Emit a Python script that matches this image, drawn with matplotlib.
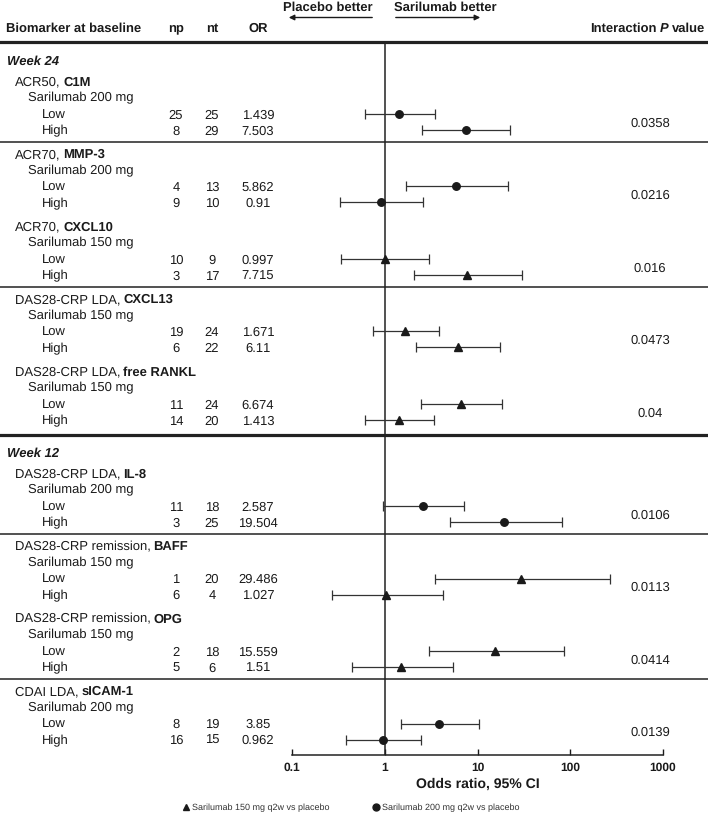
import matplotlib.pyplot as plt
from matplotlib.lines import Line2D

plt.rcParams['font.family'] = ['Liberation Sans', 'DejaVu Sans']
plt.rcParams['text.hinting'] = 'no_hinting'
plt.rcParams['text.hinting_factor'] = 1

# data
week_labels = ['Week 24', 'Week 12']
groups_per_week = [5, 4]
outcomes = ['ACR50', 'ACR70', 'ACR70', 'DAS28-CRP LDA', 'DAS28-CRP LDA',
            'DAS28-CRP LDA', 'DAS28-CRP remission', 'DAS28-CRP remission', 'CDAI LDA']
biomarkers = ['C1M', 'MMP-3', 'CXCL10', 'CXCL13', 'free RANKL',
              'IL-8', 'BAFF', 'OPG', 'sICAM-1']
doses = ['200', '200', '150', '150', '150', '200', '150', '150', '200']
np_low = [25, 4, 10, 19, 11, 11, 1, 2, 8]
np_high = [8, 9, 3, 6, 14, 3, 6, 5, 16]
nt_low = [25, 13, 9, 24, 24, 18, 20, 18, 19]
nt_high = [29, 10, 17, 22, 20, 25, 4, 6, 15]
or_low = ['1.439', '5.862', '0.997', '1.671', '6.674', '2.587', '29.486', '15.559', '3.85']
or_high = ['7.503', '0.91', '7.715', '6.11', '1.413', '19.504', '1.027', '1.51', '0.962']
ci_low_lo = [0.61, 1.68, 0.34, 0.74, 2.45, 0.95, 3.45, 3.0, 1.48]
ci_low_hi = [3.45, 21.5, 3.0, 3.8, 18.5, 7.1, 270, 85, 10.5]
ci_high_lo = [2.5, 0.33, 2.05, 2.15, 0.61, 5.0, 0.27, 0.44, 0.38]
ci_high_hi = [22.6, 2.6, 30, 17.7, 3.4, 82, 4.2, 5.4, 2.44]
p_values = ['0.0358', '0.0216', '0.016', '0.0473', '0.04',
            '0.0106', '0.0113', '0.0414', '0.0139']
xticks = [0.1, 1, 10, 100, 1000]
xtick_labels = ['0.1', '1', '10', '100', '1000']

# layout (pixels)
W, H = 708, 813
fs = 9.3
txt = '#1a1a1a'
sep_after = [1, 0, 1, 0, 0, 1, 0, 1, 0]

fig = plt.figure(figsize=(W / 100, H / 100), dpi=100)
tab = fig.add_axes([0, 0, 1, 1])
tab.set_xlim(0, W)
tab.set_ylim(H, 0)
tab.axis('off')

top_y, axis_y = 42, 755
ax = fig.add_axes([292 / W, (H - axis_y) / H, (663 - 292) / W, (axis_y - top_y) / H])
ax.patch.set_alpha(0)
ax.set_xscale('log')
ax.set_xlim(0.1, 1000)
ax.set_ylim(axis_y, top_y)

renderer = fig.canvas.get_renderer()


def rich(x, y, parts, size=fs, gap=0.2):
    space = gap * size * 100 / 72
    for s, w, st in parts:
        t = tab.text(x, y, s, fontsize=size, fontweight=w, fontstyle=st,
                     va='center_baseline', ha='left', color=txt)
        x += t.get_window_extent(renderer).width + space


# header
rich(6, 27, [('Biomarker at baseline', 'bold', 'normal')])
for label, cx in zip(['np', 'nt', 'OR'], [176, 212, 258]):
    tab.text(cx, 27, label, fontsize=fs, fontweight='bold', ha='center',
             va='center_baseline', color=txt)
rich(590, 27, [('Interaction', 'bold', 'normal'), ('P', 'bold', 'italic'),
               ('value', 'bold', 'normal')], gap=0.26)
tab.axhline(top_y, color='#222222', lw=2.3)

tab.text(328, 8, 'Placebo better', fontsize=fs, fontweight='bold', ha='center',
         va='center', color=txt)
tab.text(445, 8, 'Sarilumab better', fontsize=fs, fontweight='bold', ha='center',
         va='center', color=txt)
tab.annotate('', xy=(286, 17.5), xytext=(375, 17.5),
             arrowprops=dict(arrowstyle='-|>', color=txt, lw=1.0, mutation_scale=8))
tab.annotate('', xy=(483, 17.5), xytext=(393, 17.5),
             arrowprops=dict(arrowstyle='-|>', color=txt, lw=1.0, mutation_scale=8))

ax.axvline(1, color='#222222', lw=1.1)

g = 0
y = 60
for wi, week in enumerate(week_labels):
    if wi > 0:
        line_y = y_high + 15
        tab.axhline(line_y, color='#222222', lw=2.3)
        y = line_y + 17
    rich(7, y, [(week, 'bold', 'italic')])
    y += 21
    for k in range(groups_per_week[wi]):
        rich(15, y, [(outcomes[g] + ',', 'normal', 'normal'), (biomarkers[g], 'bold', 'normal')])
        tab.text(28, y + 16, 'Sarilumab ' + doses[g] + ' mg', fontsize=fs,
                 va='center_baseline', color=txt)
        y_low, y_high = y + 33, y + 49
        marker = '^' if doses[g] == '150' else 'o'
        msize = 6.0 if marker == '^' else 5.4
        for yy, lab, n1, n2, orv, lo, hi in [
                (y_low, 'Low', np_low[g], nt_low[g], or_low[g], ci_low_lo[g], ci_low_hi[g]),
                (y_high, 'High', np_high[g], nt_high[g], or_high[g], ci_high_lo[g], ci_high_hi[g])]:
            tab.text(42, yy, lab, fontsize=fs, va='center_baseline', color=txt)
            tab.text(176, yy, str(n1), fontsize=fs, ha='center', va='center_baseline', color=txt)
            tab.text(212, yy, str(n2), fontsize=fs, ha='center', va='center_baseline', color=txt)
            tab.text(258, yy, orv, fontsize=fs, ha='center', va='center_baseline', color=txt)
            v = float(orv)
            ax.errorbar([v], [yy], xerr=[[v - lo], [hi - v]], fmt=marker,
                        color='#1a1a1a', ecolor='#333333', elinewidth=0.9,
                        capsize=3.5, capthick=0.9, markersize=msize, zorder=3)
        tab.text(650, (y_low + y_high) / 2, p_values[g], fontsize=fs, ha='center',
                 va='center_baseline', color=txt)
        if sep_after[g]:
            tab.axhline(y_high + 12, color='#222222', lw=1.1)
        g += 1
        y += 72.5

# axis styling
for side in ['top', 'left', 'right']:
    ax.spines[side].set_visible(False)
ax.spines['bottom'].set_linewidth(1.1)
ax.spines['bottom'].set_color('#222222')
ax.set_yticks([])
ax.set_xticks(xticks)
ax.set_xticklabels(xtick_labels, fontweight='bold', fontsize=8.6)
ax.minorticks_off()
ax.tick_params(axis='x', direction='in', length=4, width=1.0, pad=5, colors=txt)
ax.set_xlabel('Odds ratio, 95% CI', fontsize=fs + 0.5, fontweight='bold', labelpad=3, color=txt)

handles = [Line2D([], [], marker='^', ls='none', color='#1a1a1a', markersize=5),
           Line2D([], [], marker='o', ls='none', color='#1a1a1a', markersize=5)]
fig.legend(handles, ['Sarilumab 150 mg q2w vs placebo', 'Sarilumab 200 mg q2w vs placebo'],
           loc='center', bbox_to_anchor=(351 / W, 1 - 808 / H), ncol=2, frameon=False,
           fontsize=6.2, handlelength=0.8, handletextpad=0.3, columnspacing=5.0,
           borderpad=0.1, labelcolor='#333333')

fig.savefig('out.png', dpi=100)
